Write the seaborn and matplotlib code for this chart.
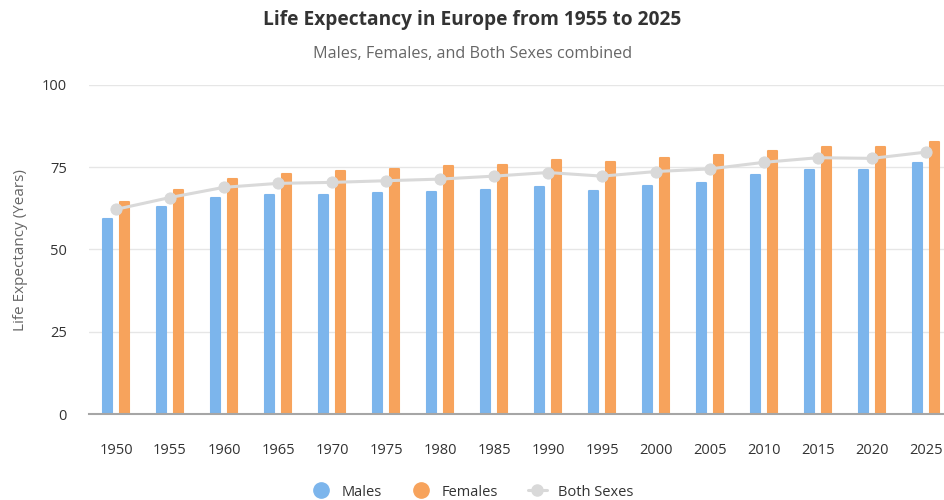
import numpy as np
import pandas as pd
import seaborn as sns
import matplotlib.pyplot as plt
from matplotlib.lines import Line2D

years = ["1950", "1955", "1960", "1965", "1970", "1975", "1980", "1985",
         "1990", "1995", "2000", "2005", "2010", "2015", "2020", "2025"]
males = [59.3, 62.9, 65.7, 66.6, 66.6, 67.1, 67.4, 68.2,
         69.0, 67.8, 69.4, 70.3, 72.6, 74.2, 74.2, 76.3]
females = [64.5, 68.1, 71.4, 73.0, 73.8, 74.6, 75.4, 75.8,
           77.1, 76.7, 77.9, 78.7, 79.9, 81.2, 81.2, 82.8]
both_sexes = [62.2, 65.8, 68.9, 70.1, 70.4, 70.9, 71.4, 72.3,
              73.4, 72.3, 73.7, 74.5, 76.5, 77.9, 77.7, 79.6]

sexes = ["Males", "Females"]
colors = {"Males": "#7cb5ec", "Females": "#f7a35c"}
line_color = "#d9d9d9"

df = pd.DataFrame({
    "Year": years * 2,
    "Sex": ["Males"] * len(years) + ["Females"] * len(years),
    "Life": males + females,
})

sns.set_theme(style="white")
plt.rcParams["font.family"] = ["Open Sans", "DejaVu Sans"]

fig = plt.figure(figsize=(9.45, 5), dpi=100)
ax = fig.add_axes([89 / 945, 86 / 500, 864 / 945, 329 / 500])

sns.barplot(data=df, x="Year", y="Life", hue="Sex", order=years,
            hue_order=sexes, palette=colors, saturation=1, width=0.6,
            gap=0.45, legend=False, ax=ax, zorder=2)
# rounded tops like the original
for p in ax.patches:
    p.set_edgecolor(p.get_facecolor())
    p.set_linewidth(1.5)
    p.set_joinstyle("round")

sns.lineplot(x=np.arange(len(years)), y=both_sexes, color=line_color,
             linewidth=2.2, marker="o", markersize=8,
             markeredgecolor=line_color, ax=ax, zorder=3)

ax.set_xlim(-0.5, len(years) - 0.5)
ax.set_ylim(0, 100)
ax.set_yticks([0, 25, 50, 75, 100])
ax.yaxis.grid(True, color="#e6e6e6", linewidth=1)
ax.set_axisbelow(True)
for s in ["top", "right", "left"]:
    ax.spines[s].set_visible(False)
ax.spines["bottom"].set_color("#a6a6a6")
ax.spines["bottom"].set_linewidth(1.5)
ax.spines["bottom"].set_zorder(4)
ax.tick_params(axis="both", length=0, labelsize=10.5, colors="#333333")
ax.tick_params(axis="x", pad=21)
ax.tick_params(axis="y", pad=16)
ax.set_xlabel("")
ax.set_ylabel("")

fig.text(21 / 945, 250 / 500, "Life Expectancy (Years)", rotation=90,
         ha="center", va="center", fontsize=11, color="#666666")
fig.text(0.5, 1 - 20 / 500, "Life Expectancy in Europe from 1955 to 2025",
         ha="center", va="center", fontsize=13.8, fontweight="bold",
         color="#333333")
fig.text(0.5, 1 - 54 / 500, "Males, Females, and Both Sexes combined",
         ha="center", va="center", fontsize=11.6, color="#666666")

handles = [
    Line2D([], [], linestyle="none", marker="o", markersize=11,
           color=colors["Males"]),
    Line2D([], [], linestyle="none", marker="o", markersize=11,
           color=colors["Females"]),
    Line2D([], [], color=line_color, linewidth=2.2, marker="o",
           markersize=8),
]
fig.legend(handles, ["Males", "Females", "Both Sexes"], loc="center",
           bbox_to_anchor=(0.5, 8 / 500), ncol=3, frameon=False,
           fontsize=10.5, handlelength=1.3, columnspacing=2.0,
           labelcolor="#333333")

fig.savefig("out.png", dpi=100)
